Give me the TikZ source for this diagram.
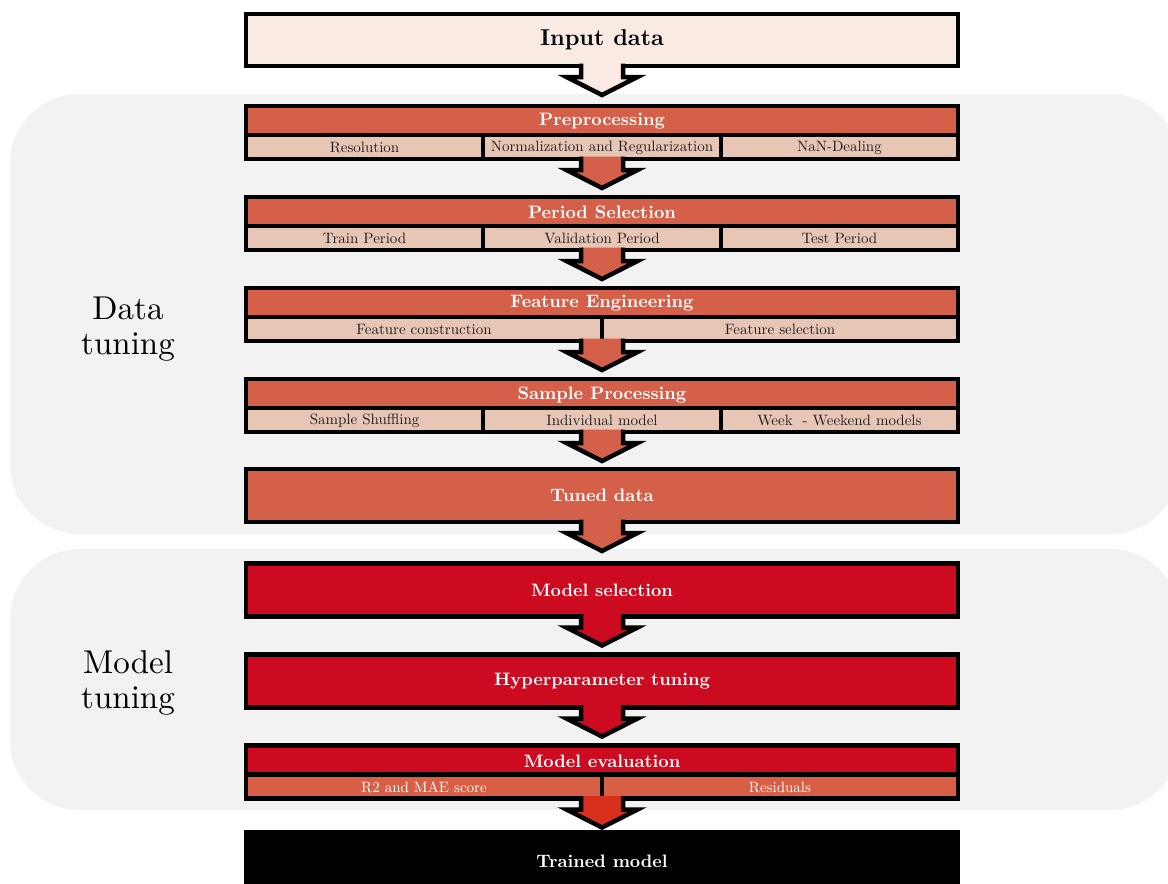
\documentclass[tikz,border=0pt]{standalone}
\usepackage{fontspec}
\setmainfont{lmroman10}[Extension=.otf, UprightFont=*-regular, BoldFont=*-bold, ItalicFont=*-italic, BoldItalicFont=*-bolditalic]
\usetikzlibrary{shadows}
\definecolor{inpfill}{HTML}{F9EBE3}
\definecolor{orangeh}{HTML}{D4604A}
\definecolor{peach}{HTML}{E8C6B6}
\definecolor{redbox}{HTML}{CC0A20}
\definecolor{evalsub}{HTML}{D85F46}
\definecolor{lastarrow}{HTML}{D9301E}
\definecolor{regiongray}{HTML}{F2F2F2}
\definecolor{subtext}{HTML}{1E1E1E}
\tikzset{
  region/.style={fill=regiongray, rounded corners=70pt},
  boxshadow/.style={drop shadow={shadow xshift=2pt, shadow yshift=-2pt, opacity=0.35, fill=black}},
  box/.style={draw=black, line width=4.5pt, minimum width=712pt, minimum height=53pt,
    inner sep=0pt, outer sep=0pt, boxshadow},
  bigtxt/.style={font=\fontsize{18}{20}\selectfont\bfseries, text=white},
  hdr/.style={minimum width=707.5pt, minimum height=26.75pt, inner sep=0pt, outer sep=0pt,
    bigtxt},
  subtxt/.style={font=\fontsize{15}{17}\selectfont, text=subtext, inner sep=0pt},
  cellsep/.style={line width=4pt},
  rowsep/.style={line width=4.5pt},
  sidelabel/.style={font=\fontsize{33}{35}\selectfont, align=center, text=black},
  pics/flowarr/.style={code={
    \path[pic actions] (-21,-2.3) -- (-21,11) -- (-35.5,11) -- (0,29) -- (35.5,11) -- (21,11) -- (21,-2.3) -- cycle;
    \draw[line width=4.5pt, line join=miter] (-21,-2.3) -- (-21,11) -- (-35.5,11) -- (0,29) -- (35.5,11) -- (21,11) -- (21,-2.3);
  }}
}
\begin{document}
\begin{tikzpicture}[x=1pt, y=-1pt]
\useasboundingbox (0,0) rectangle (1168,884);
% background regions
\path[region] (10,94) rectangle (1180,534);
\path[region] (10,549) rectangle (1180,810);
\node[sidelabel] (dlabel) at (128,329) {Data\\tuning};
\node[sidelabel] (mlabel) at (128,683) {Model\\tuning};

% Input data
\node[box, fill=inpfill, minimum height=52pt, font=\fontsize{23}{25}\selectfont\bfseries] (inp) at (602,40) {Input data};
\pic[fill=inpfill] at (inp.south) {flowarr};

% Preprocessing (T=106, B=159)
\node[box, fill=peach] (pre) at (602,132.5) {};
\node[hdr, fill=orangeh] (preh) at (602,121.6) {Preprocessing};
\draw[rowsep] (246,135) -- (958,135);
\draw[cellsep] (483.3,135) -- (483.3,159);
\draw[cellsep] (720.7,135) -- (720.7,159);
\node[subtxt] (pre1) at (364.6,147.5) {Resolution};
\node[subtxt] (pre2) at (602,147.5) {Normalization and Regularization};
\node[subtxt] (pre3) at (839.4,147.5) {NaN-Dealing};
\pic[fill=orangeh] at (pre.south) {flowarr};

% Period Selection (T=197, B=250)
\node[box, fill=peach] (per) at (602,223.5) {};
\node[hdr, fill=orangeh] (perh) at (602,212.6) {Period Selection};
\draw[rowsep] (246,226) -- (958,226);
\draw[cellsep] (483.3,226) -- (483.3,250);
\draw[cellsep] (720.7,226) -- (720.7,250);
\node[subtxt] (per1) at (364.6,238.5) {Train Period};
\node[subtxt] (per2) at (602,238.5) {Validation Period};
\node[subtxt] (per3) at (839.4,238.5) {Test Period};
\pic[fill=orangeh] at (per.south) {flowarr};

% Feature Engineering (T=288, B=341)
\node[box, fill=peach] (fea) at (602,314.5) {};
\node[hdr, fill=orangeh] (feah) at (602,303.6) {Feature Engineering};
\draw[rowsep] (246,317) -- (958,317);
\draw[cellsep] (602,317) -- (602,341);
\node[subtxt] (fea1) at (424,329.5) {Feature construction};
\node[subtxt] (fea2) at (780,329.5) {Feature selection};
\pic[fill=orangeh] at (fea.south) {flowarr};

% Sample Processing (T=379, B=432)
\node[box, fill=peach] (sam) at (602,405.5) {};
\node[hdr, fill=orangeh] (samh) at (602,394.6) {Sample Processing};
\draw[rowsep] (246,408) -- (958,408);
\draw[cellsep] (483.3,408) -- (483.3,432);
\draw[cellsep] (720.7,408) -- (720.7,432);
\node[subtxt] (sam1) at (364.6,420.5) {Sample Shuffling};
\node[subtxt] (sam2) at (602,420.5) {Individual model};
\node[subtxt] (sam3) at (839.4,420.5) {Week\ \ - Weekend models};
\pic[fill=orangeh] at (sam.south) {flowarr};

% Tuned data (T=469, B=522)
\node[box, fill=orangeh, bigtxt] (tun) at (602,495.5) {Tuned data};
\pic[fill=orangeh] at (tun.south) {flowarr};

% Model selection
\node[box, fill=redbox, bigtxt] (msel) at (602,590) {Model selection};
\pic[fill=redbox] at (msel.south) {flowarr};

% Hyperparameter tuning
\node[box, fill=redbox, bigtxt] (hyp) at (602,681) {Hyperparameter tuning};
\pic[fill=redbox] at (hyp.south) {flowarr};

% Model evaluation (T=745.5, B=798.5)
\node[box, fill=evalsub] (eva) at (602,772) {};
\node[hdr, fill=redbox] (evah) at (602,761.1) {Model evaluation};
\draw[rowsep] (246,774.5) -- (958,774.5);
\draw[cellsep] (602,774.5) -- (602,798.5);
\node[subtxt, text=white] (eva1) at (424,787) {R2 and MAE score};
\node[subtxt, text=white] (eva2) at (780,787) {Residuals};
\pic[fill=lastarrow] at (eva.south) {flowarr};

% Trained model
\node[box, fill=black, minimum height=58pt, bigtxt] (trn) at (602,861) {Trained model};
\end{tikzpicture}
\end{document}
